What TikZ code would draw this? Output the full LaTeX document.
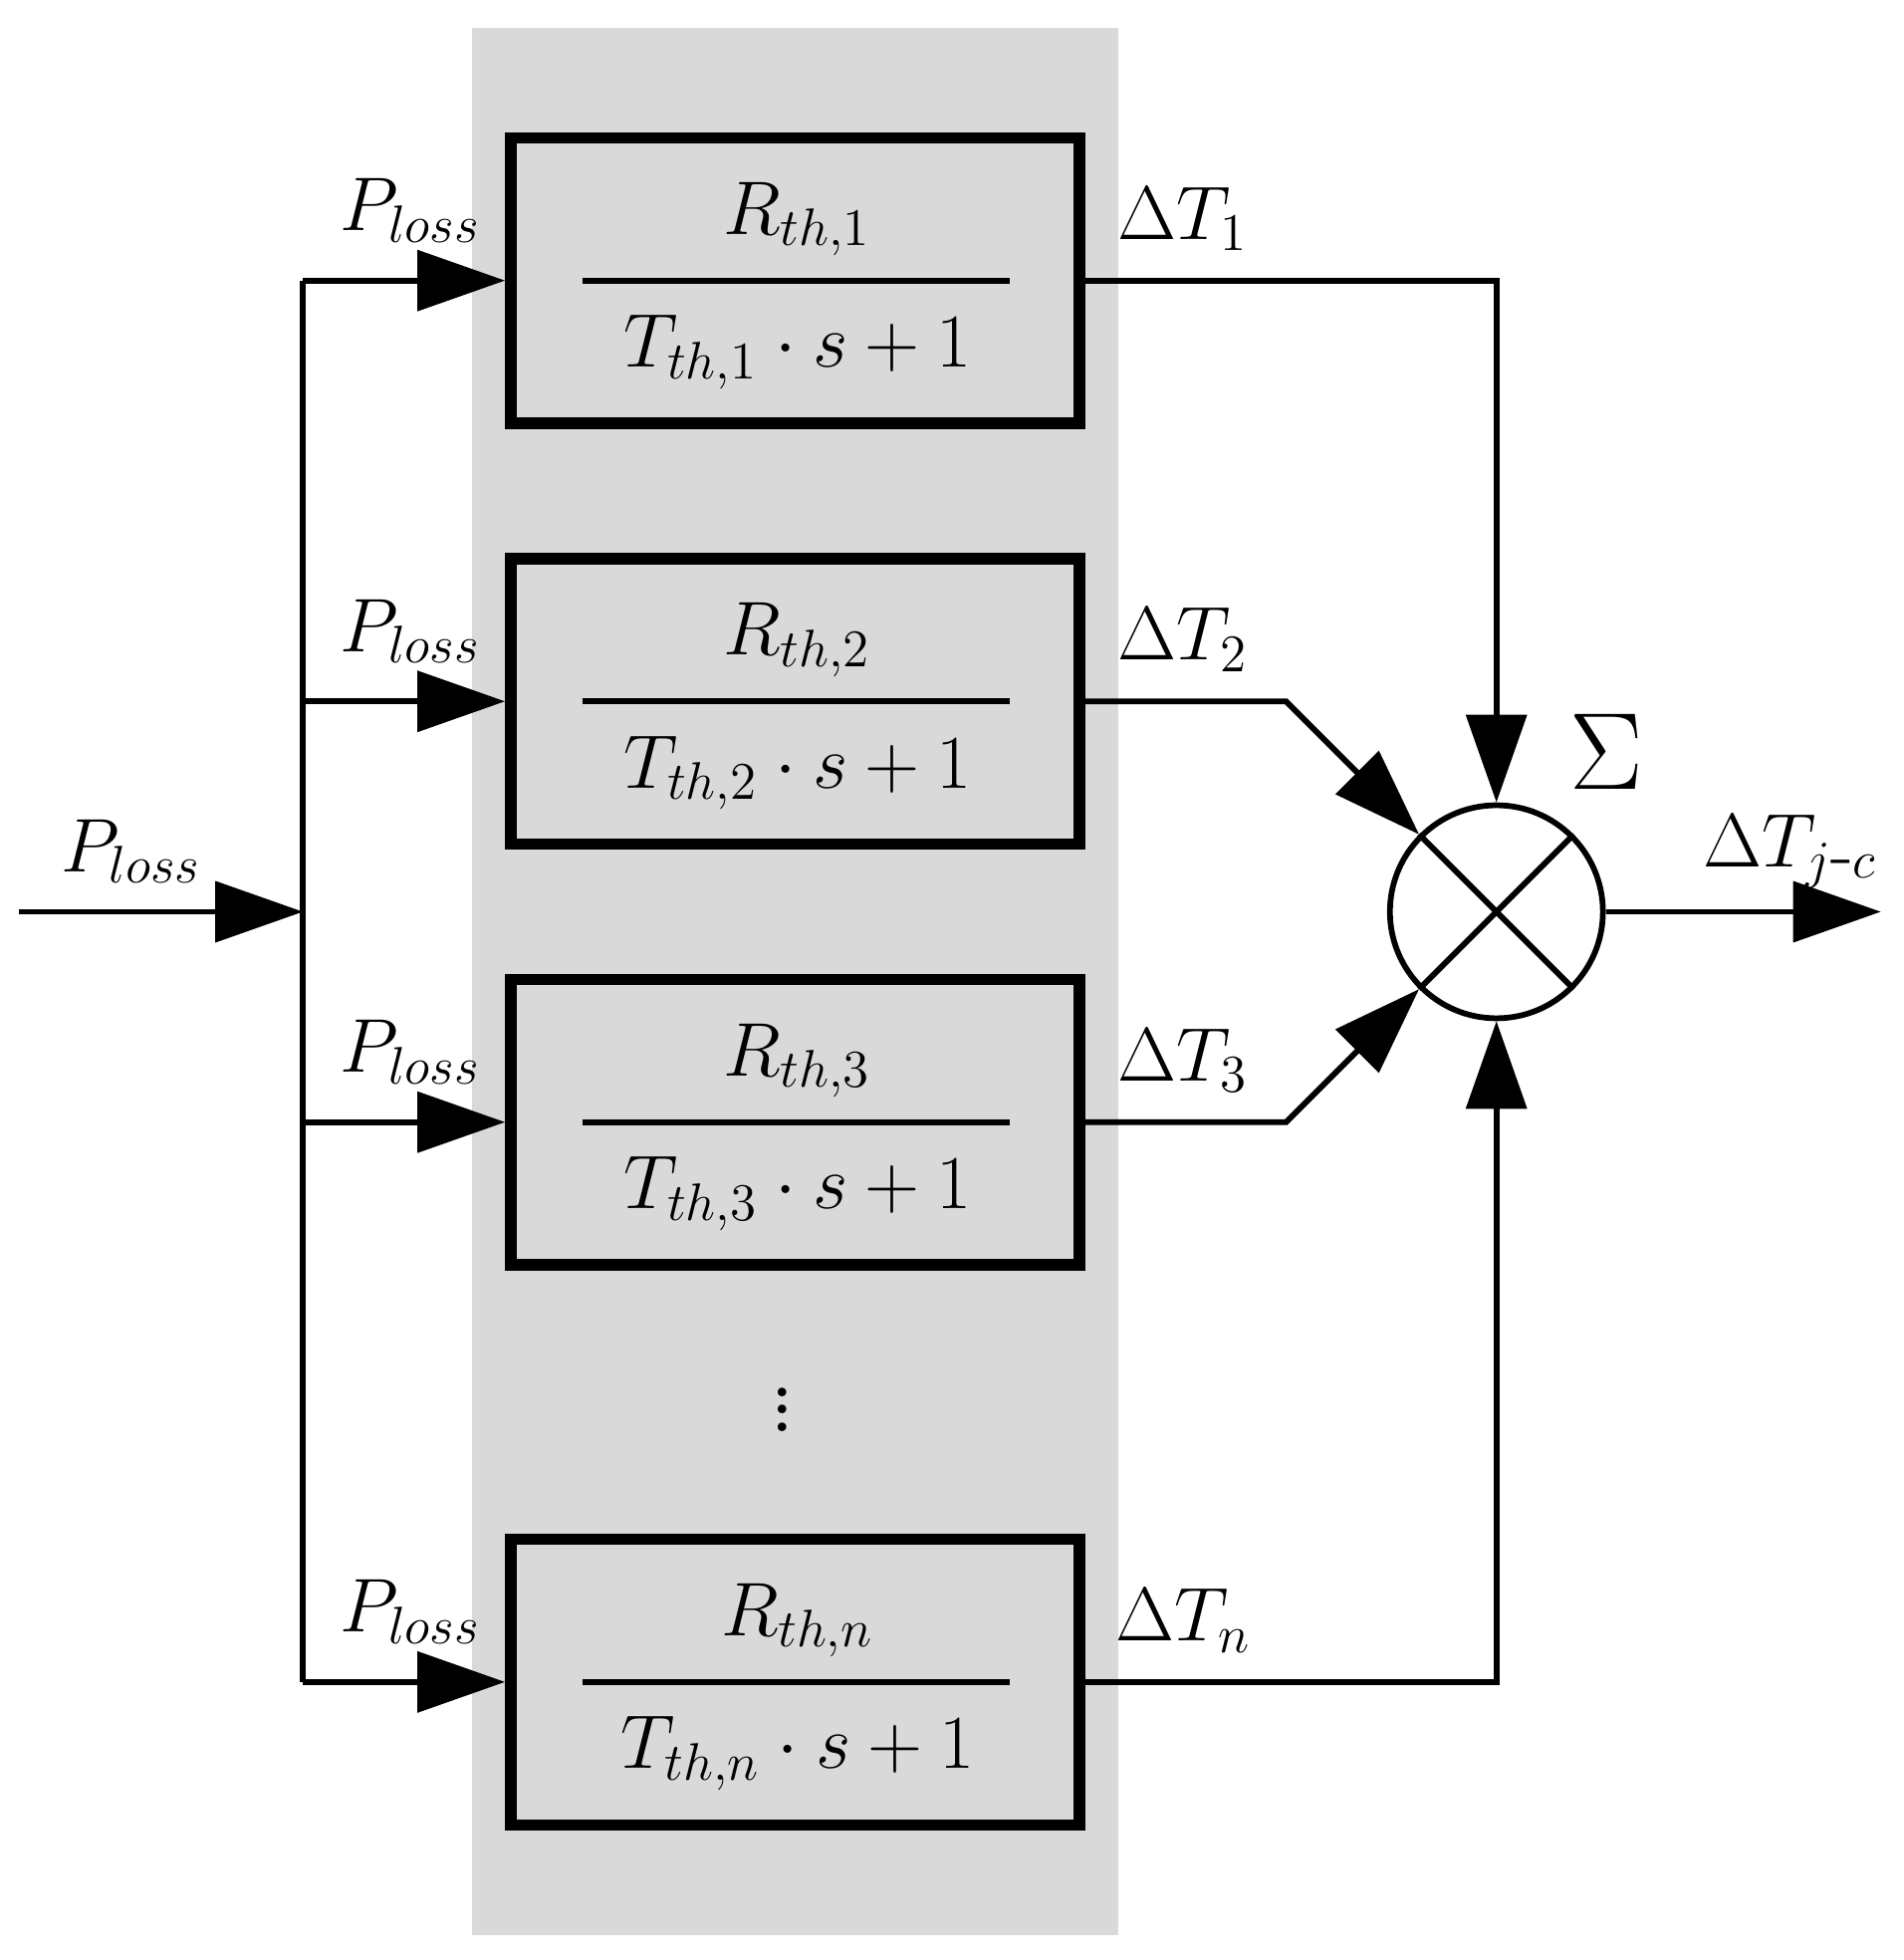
\documentclass[tikz,border=0pt]{standalone}
\usetikzlibrary{arrows.meta}
\begin{document}
\begin{tikzpicture}[x=0.01cm,y=-0.01cm,
 ln/.style={line width=1.3pt},
 arr/.style={ln,-{Triangle[length=0.7cm,width=0.48cm]}},
 blk/.style={draw,line width=2.6pt,minimum width=4.54cm,minimum height=2.28cm,inner sep=0},
 lab/.style={font=\fontsize{17}{20}\selectfont}]
\useasboundingbox (0,0) rectangle (1520,1565);
\fill[gray!30] (377,22) rectangle (893,1545);
\foreach \n/\y/\k in {1/224/1,2/560/2,3/896/3,n/1343/n}{
 \node[blk] (b\n) at (635,\y) {};
 \draw[ln] (465,\y) -- (806,\y);
 \node[lab] at (637,\y-49) {$R_{th,\k}$};
 \node[lab] at (637,\y+57) {$T_{th,\k}\cdot s+1$};
 \coordinate (s\n) at (242,\y);
 \draw[arr] (s\n) -- (b\n.west);
 \node[lab] at (328,\y-56) {$P_{loss}$};
 \node[lab] at (945,\y-49) {$\Delta T_{\k}$};
}
\draw[ln] (s1) -- (sn);
\coordinate (in) at (15,728);
\coordinate (bus) at (242,728);
\draw[arr] (in) -- (bus);
\node[lab] at (105,680) {$P_{loss}$};
\node[draw,circle,line width=1.3pt,minimum size=1.7cm,inner sep=0] (sum) at (1195,728) {};
\draw[ln] (sum.45) -- (sum.225) (sum.135) -- (sum.315);
\node[font=\fontsize{30}{34}\selectfont] at (1283,600) {$\Sigma$};
\coordinate (c1) at (1195,224); \coordinate (c2) at (1027,560);
\coordinate (c3) at (1027,896); \coordinate (cn) at (1195,1343);
\draw[arr] (b1.east) -- (c1) -- (sum.north);
\draw[arr] (b2.east) -- (c2) -- (sum.135);
\draw[arr] (b3.east) -- (c3) -- (sum.225);
\draw[arr] (bn.east) -- (cn) -- (sum.south);
\coordinate (out) at (1502,728);
\draw[arr] (sum.east) -- (out);
\node[lab] at (1430,680) {$\Delta T_{j\mbox{-}c}$};
\node[font=\fontsize{24}{28}\selectfont] at (625,1115) {$\vdots$};
\end{tikzpicture}
\end{document}
